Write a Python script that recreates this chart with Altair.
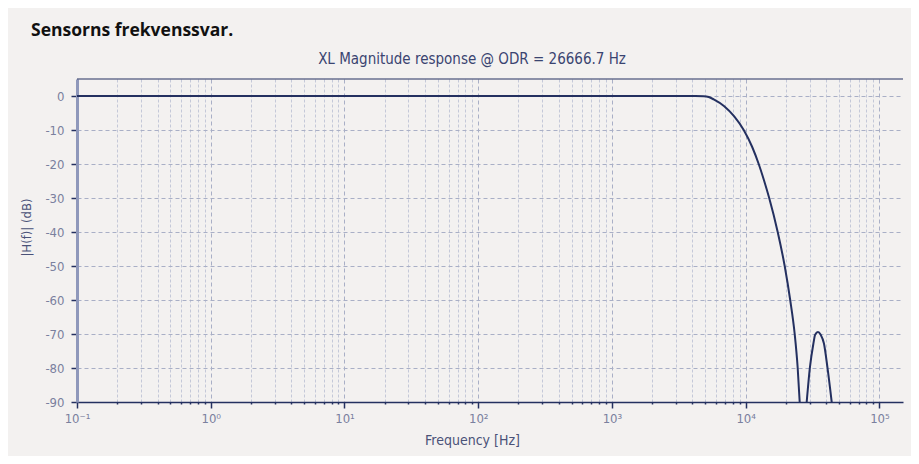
import json
import altair as alt
import pandas as pd

# ---- data ----
freq_hz = [0.1, 1, 10, 100, 1000, 3000, 4200, 4854, 5291, 5765, 6909, 8207, 9663,
           11184, 12509, 13750, 14984, 17347, 19565, 21511, 23242, 24472, 25330,
           28580, 30240, 32080, 33050, 34690, 36370, 38460, 40800, 43950]
mag_db = [0, 0, 0, 0, 0, 0, 0, -0.05, -0.3, -1.0, -3.0, -6.0, -10.0,
          -15.0, -20.0, -25.0, -30.0, -40.0, -50.0, -60.0, -70.0, -80.0, -90.0,
          -90.0, -79.7, -72.8, -70.2, -69.4, -70.2, -72.8, -79.7, -90.0]
segment = ["main"] * 23 + ["lobe"] * 9

decade_ticks = [0.1, 1, 10, 100, 1000, 10000, 100000]
decade_labels = ["10⁻¹", "10⁰", "10¹", "10²", "10³", "10⁴", "10⁵"]
minor_ticks = [2e-1, 3e-1, 4e-1, 5e-1, 6e-1, 7e-1, 8e-1, 9e-1,
               2, 3, 4, 5, 6, 7, 8, 9,
               20, 30, 40, 50, 60, 70, 80, 90,
               200, 300, 400, 500, 600, 700, 800, 900,
               2000, 3000, 4000, 5000, 6000, 7000, 8000, 9000,
               20000, 30000, 40000, 50000, 60000, 70000, 80000, 90000]
y_ticks = [0, -10, -20, -30, -40, -50, -60, -70, -80, -90]

heading = "Sensorns frekvenssvar."
plot_title = "XL Magnitude response @ ODR = 26666.7 Hz"
x_title = "Frequency [Hz]"
y_title = "|H(f)| (dB)"

# ---- style ----
NAVY = "#243060"
BG = "#f3f1f0"
LABEL = "#7a809e"
GRID = "#a9afc6"
GRID_MINOR = "#c4c8d8"
NARROW = "Liberation Sans Narrow, DejaVu Sans Condensed, sans-serif"

df = pd.DataFrame({"freq": freq_hz, "db": mag_db, "seg": segment})

is_decade = "abs(log(datum.value)/LN10 - round(log(datum.value)/LN10)) < 0.001"
label_expr = ("(" + is_decade + ") ? " + json.dumps(decade_labels, ensure_ascii=False)
              + "[round(log(datum.value)/LN10) + 1] : ''")

x_axis = alt.Axis(
    values=decade_ticks + minor_ticks,
    labelExpr=label_expr,
    labelOverlap=False,
    labelFlush=False,
    labelBound=False,
    labelFont=NARROW,
    labelFontSize=13,
    labelColor=LABEL,
    labelPadding=4,
    tickColor=NAVY,
    tickWidth=1.5,
    tickSize={"condition": {"test": is_decade, "value": 6}, "value": 2},
    domainColor=NAVY,
    domainWidth=1.5,
    grid=True,
    gridColor={"condition": {"test": is_decade, "value": GRID}, "value": GRID_MINOR},
    gridDash={"condition": {"test": is_decade, "value": [4, 3]}, "value": [3, 2]},
    gridWidth=1,
    title=x_title,
    titleFont=NARROW,
    titleFontSize=14,
    titleFontWeight="normal",
    titleColor="#4a5278",
    titleX=395,
    titleY=42,
    titleBaseline="alphabetic",
)

y_axis = alt.Axis(
    values=y_ticks,
    labelExpr="datum.value == 0 ? '0' : '-' + abs(datum.value)",
    labelFont=NARROW,
    labelFontSize=13,
    labelColor=LABEL,
    labelPadding=7,
    tickColor=NAVY,
    tickWidth=1.5,
    tickSize=6,
    domainColor="#8f98bb",
    domainWidth=3,
    grid=True,
    gridColor=GRID,
    gridDash=[4, 3],
    gridWidth=1,
    title=y_title,
    titleFont=NARROW,
    titleFontSize=13,
    titleFontWeight="normal",
    titleColor="#4a5278",
    titleX=-47,
    titleY=148,
    titleBaseline="alphabetic",
)

curve = alt.Chart(df).mark_line(
    color=NAVY, strokeWidth=2, interpolate="monotone", clip=True
).encode(
    x=alt.X("freq:Q", scale=alt.Scale(type="log", domain=[0.1, 150000], nice=False), axis=x_axis),
    y=alt.Y("db:Q", scale=alt.Scale(domain=[-90, 5], nice=False, zero=False), axis=y_axis),
    detail="seg:N",
)

top_border = alt.Chart(pd.DataFrame({"k": [0]})).mark_rule(
    color=NAVY, strokeWidth=1.2
).encode(y=alt.value(0))

head = alt.Chart(pd.DataFrame({"t": [heading]})).mark_text(
    align="left", baseline="alphabetic", font="Open Sans", fontSize=17.5,
    fontWeight="bold", color="#111111", clip=False
).encode(x=alt.value(-46), y=alt.value(-43), text="t:N")

sub = alt.Chart(pd.DataFrame({"t": [plot_title]})).mark_text(
    align="center", baseline="alphabetic", font=NARROW, fontSize=15,
    color="#3a4470", clip=False
).encode(x=alt.value(395), y=alt.value(-15), text="t:N")

chart = alt.layer(curve, top_border, head, sub).properties(
    width=826,
    height=323,
    padding={"left": 69, "top": 71, "right": 8, "bottom": 54},
    autosize=alt.AutoSizeParams(type="none"),
    background=BG,
).configure_view(stroke=None, fill=BG)

chart.save("out.html", embed_options={"renderer": "svg", "actions": False})
